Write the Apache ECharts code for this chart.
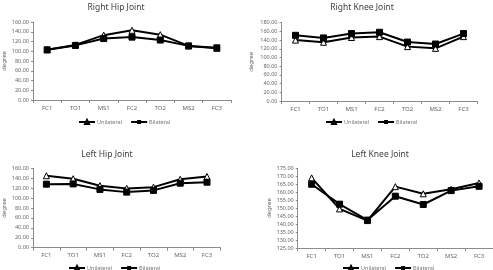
<!DOCTYPE html>
<html>
<head>
<meta charset="utf-8">
<script src="https://cdn.jsdelivr.net/npm/echarts@6/dist/echarts.min.js"></script>
<style>
  html, body { margin: 0; padding: 0; background: #fff; }
  #chart { width: 493px; height: 270px; }
</style>
</head>
<body>
<div id="chart"></div>
<script>
const phases = ["FC1", "TO1", "MS1", "FC2", "TO2", "MS2", "FC3"];

const rightHipUni = [103, 113, 133, 143, 134, 111, 106];
const rightHipBi = [103, 112, 126, 129, 123, 111, 107];

const rightKneeUni = [140, 135, 146, 148, 125, 121, 148];
const rightKneeBi = [151, 145, 155, 158, 135.5, 131, 155];

const leftHipUni = [145, 139, 125, 119.5, 122, 138, 143.5];
const leftHipBi = [128, 128.5, 117.5, 112, 115.5, 130, 132];

const leftKneeUni = [169, 149.5, 142.2, 163.5, 159, 161.8, 165.8];
const leftKneeBi = [165, 152.5, 142.5, 157.5, 152.3, 161, 163.7];

const FONT = "'Noto Sans', 'DejaVu Sans', sans-serif";
const AXIS_COLOR = "#8c8c8c";
const TEXT_COLOR = "#666";

// one panel = grid + axes + title + legend
const panels = [
  { title: "Right Hip Joint", titleX: 116, titleY: 3, grid: { left: 33, top: 22, width: 198, height: 78 },
    y: [0, 160, 20], nameGap: 26, legendX: 78, legendY: 119, uni: rightHipUni, bi: rightHipBi },
  { title: "Right Knee Joint", titleX: 362, titleY: 3, grid: { left: 281.5, top: 22.7, width: 196, height: 78.3 },
    y: [0, 180, 20], nameGap: 27, legendX: 325, legendY: 119, uni: rightKneeUni, bi: rightKneeBi },
  { title: "Left Hip Joint", titleX: 107, titleY: 150, grid: { left: 25.4, top: 168.3, width: 195, height: 79.4 },
    y: [0, 160, 20], nameGap: 26, legendX: 68, legendY: 265, uni: leftHipUni, bi: leftHipBi },
  { title: "Left Knee Joint", titleX: 380, titleY: 150, grid: { left: 297.7, top: 168.3, width: 196, height: 79.7 },
    y: [125, 175, 5], nameGap: 25, legendX: 342, legendY: 265, uni: leftKneeUni, bi: leftKneeBi }
];

const chart = echarts.init(document.getElementById("chart"));

const option = {
  backgroundColor: "#fff",
  animation: false,
  textStyle: { fontFamily: FONT },
  title: panels.map((p) => ({
    text: p.title,
    left: p.titleX,
    top: p.titleY,
    padding: 0,
    textAlign: "center",
    textStyle: { fontSize: 8.5, fontWeight: "normal", color: "#404040", fontFamily: FONT }
  })),
  legend: panels.map((p) => ({
    left: p.legendX,
    top: p.legendY,
    padding: 0,
    itemWidth: 16,
    itemHeight: 5,
    itemGap: 8,
    data: ["Unilateral", "Bilateral"],
    textStyle: { fontSize: 5.5, color: "#777", padding: [0, 0, 0, -3] }
  })),
  grid: panels.map((p) => ({ ...p.grid, containLabel: false })),
  xAxis: panels.map((p, i) => ({
    type: "category",
    gridIndex: i,
    data: phases,
    boundaryGap: true,
    axisLine: { lineStyle: { color: AXIS_COLOR, width: 1 } },
    axisTick: { show: true, length: 3, lineStyle: { color: AXIS_COLOR } },
    axisLabel: { fontSize: 6, color: TEXT_COLOR, margin: 5 }
  })),
  yAxis: panels.map((p, i) => ({
    type: "value",
    gridIndex: i,
    min: p.y[0],
    max: p.y[1],
    interval: p.y[2],
    name: "degree",
    nameLocation: "middle",
    nameRotate: 90,
    nameGap: p.nameGap,
    nameTextStyle: { fontSize: 6, color: TEXT_COLOR },
    axisLine: { show: true, lineStyle: { color: AXIS_COLOR, width: 1 } },
    axisTick: { show: true, length: 2, lineStyle: { color: AXIS_COLOR } },
    splitLine: { show: false },
    axisLabel: { fontSize: 5.5, color: TEXT_COLOR, margin: 4, formatter: (v) => v.toFixed(2) }
  })),
  series: panels.flatMap((p, i) => [
    {
      name: "Unilateral",
      type: "line",
      xAxisIndex: i,
      yAxisIndex: i,
      data: p.uni,
      symbol: "triangle",
      symbolSize: 6,
      lineStyle: { color: "#000", width: 2 },
      itemStyle: { color: "#fff", borderColor: "#000", borderWidth: 1 }
    },
    {
      name: "Bilateral",
      type: "line",
      xAxisIndex: i,
      yAxisIndex: i,
      data: p.bi,
      symbol: "rect",
      symbolSize: 6,
      lineStyle: { color: "#000", width: 2 },
      itemStyle: { color: "#000", borderColor: "#000" }
    }
  ])
};

chart.setOption(option);
</script>
</body>
</html>
